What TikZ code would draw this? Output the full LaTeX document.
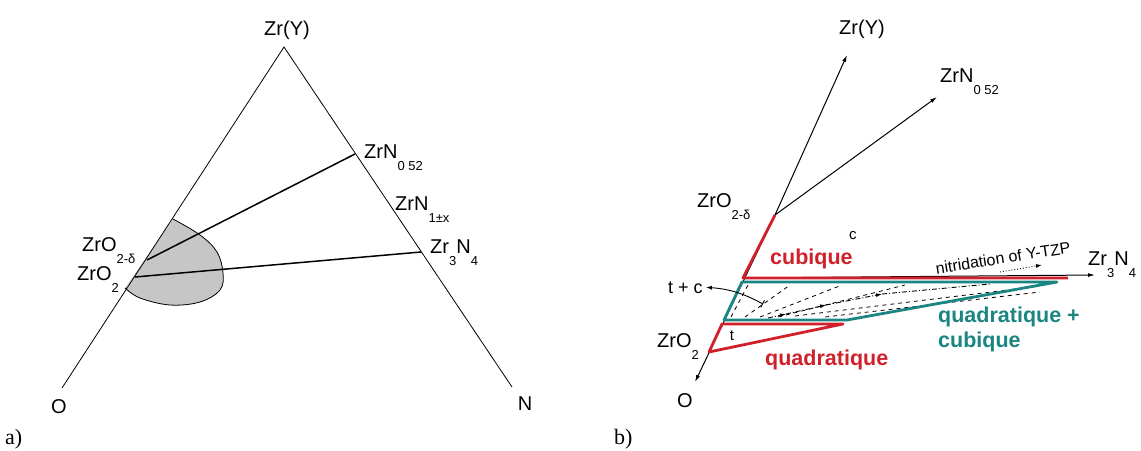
\documentclass[tikz,border=0pt]{standalone}
\usepackage{fontspec}
\setmainfont{Liberation Sans}
\newfontfamily\panelfont{Liberation Serif}
\usetikzlibrary{arrows.meta}
\definecolor{pdred}{HTML}{D0202A}
\definecolor{pdteal}{HTML}{1A8582}
\definecolor{pdgrey}{HTML}{C6C6C6}
\newcommand{\lowidx}[1]{\raisebox{-12pt}{\fontsize{13}{13}\selectfont #1}}

\begin{document}
\begin{tikzpicture}[
  x=1pt, y=-1pt,
  lab/.style       = {inner sep=0pt, anchor=base west, font=\fontsize{20}{22}\selectfont},
  corner/.style    = {inner sep=0pt, anchor=base, font=\fontsize{20}{22}\selectfont},
  panel/.style     = {inner sep=0pt, anchor=base west, font=\panelfont\fontsize{22}{24}\selectfont},
  phase/.style     = {inner sep=0pt, anchor=base west, font=\fontsize{21.5}{24}\selectfont\bfseries},
  small/.style     = {inner sep=0pt, font=\fontsize{15}{17}\selectfont},
  edge/.style      = {draw=black, line width=0.8pt},
  tie/.style       = {draw=black, line width=1.5pt},
  ray/.style       = {-{Latex[length=7pt,width=4pt]}, draw=black, line width=1pt},
  redphase/.style  = {draw=pdred, line width=2.8pt, line join=round},
  tealphase/.style = {draw=pdteal, line width=2.8pt, line join=round},
  guide/.style     = {draw=black, line width=0.8pt, dash pattern=on 4pt off 4pt},
  nitr/.style      = {draw=black, line width=0.9pt, dash pattern=on 5pt off 2pt on 1pt off 2pt},
]
\useasboundingbox (0,0) rectangle (1141,450);

% (a) section of the Zr-O-N diagram
\coordinate (aY) at (284,47);
\coordinate (aO) at (62,388);
\coordinate (aN) at (512,387);
\coordinate (aN52) at (355,154);
\coordinate (aZ3N4) at (421,252);
\coordinate (aO2d) at (147,260);
\coordinate (aO2) at (135,277);
\fill[pdgrey] plot[smooth, tension=0.6] coordinates
  {(173,219) (200,235) (217,252) (223,273) (220,290) (200,302) (170,305) (140,298) (125,288)} -- cycle;
\draw[edge] plot[smooth, tension=0.6] coordinates
  {(173,219) (200,235) (217,252) (223,273) (220,290) (200,302) (170,305) (140,298) (125,288)};
\draw[edge] (aO) -- (aY) -- (aN);
\draw[tie] (aO2d) -- (aN52);
\draw[tie] (aO2) -- (aZ3N4);
\node[corner] (aYlab) at (287,35) {Zr(Y)};
\node[lab] (aN52lab) at (364,158) {ZrN\lowidx{0 52}};
\node[lab] (aN1lab) at (395,210) {ZrN\lowidx{1±x}};
\node[lab] (aZ3N4lab) at (430,253) {Zr\lowidx{3}N\lowidx{4}};
\node[lab] (aO2dlab) at (82,251) {ZrO\lowidx{2-δ}};
\node[lab] (aO2lab) at (77,280) {ZrO\lowidx{2}};
\node[corner] (aOlab) at (59,413) {O};
\node[corner] (aNlab) at (525,410) {N};
\node[panel] (alab) at (5,444) {a)};

% (b) phase fields after nitridation
\coordinate (bO) at (695,382);
\coordinate (bY) at (847,55);
\coordinate (bO2d) at (775,215);
\coordinate (bN52) at (937,97);
\coordinate (bcub) at (743,278);
\coordinate (bZ3N4) at (1095,275);
\coordinate (tcfoot) at (763,304);
\draw[ray] (bO2d) -- (bY);
\draw[ray] (bO2d) -- (bO);
\draw[ray] (bO2d) -- (bN52);
\draw[ray] (bcub) -- (bZ3N4);
\foreach \xa/\xb in {731/748, 745/790, 760/842, 778/905}
  \draw[guide] (\xa,317) -- (\xb,285);
\draw[guide] (795,316) -- (1040,286);
\draw[guide] (825,317) -- (1040,292);
\draw[nitr, -{Latex[length=6pt,width=4pt]}] (768,318) -- (786,314);
\draw[nitr, -{Latex[length=6pt,width=4pt]}] (786,314) -- (826,305);
\draw[nitr, -{Latex[length=6pt,width=4pt]}] (826,305) -- (882,294);
\draw[nitr] (882,294) -- (990,284);
\draw[draw=black, line width=0.9pt, dotted, -{Latex[length=6pt,width=4pt]}] (1000,272) -- (1042,265);
\draw[redphase] (bO2d) -- (bcub) -- (1068,278);
\draw[tealphase] (742,282) -- (1057,282) -- (847,320) -- (724,320) -- cycle;
\draw[redphase] (722,324) -- (843,324) -- (709,352) -- cycle;
\node[corner] (bYlab) at (862,34) {Zr(Y)};
\node[lab] (bN52lab) at (940,82) {ZrN\lowidx{0 52}};
\node[lab] (bO2dlab) at (697,207) {ZrO\lowidx{2-δ}};
\node[lab] (bO2lab) at (657,347) {ZrO\lowidx{2}};
\node[corner] (bOlab) at (685,407) {O};
\node[lab] (bZ3N4lab) at (1088,265) {Zr\lowidx{3}N\lowidx{4}};
\node[small, anchor=base west, font=\fontsize{18}{20}\selectfont] (tc) at (668,293) {t + c};
\draw[{Bar[width=8pt]}-{Latex[length=6pt,width=4pt]}, line width=0.9pt]
  (tcfoot) to[bend right=12] ([xshift=3pt]tc.east);
\node[small, anchor=base west] (clab) at (849,239) {c};
\node[small] (tlab) at (732,336) {t};
\node[phase, text=pdred] (cub) at (770,264) {cubique};
\node[phase, text=pdred] (quad) at (765,365) {quadratique};
\node[phase, text=pdteal] (mix1) at (938,322) {quadratique +};
\node[phase, text=pdteal] (mix2) at (938,347) {cubique};
\node[small, rotate=9, font=\fontsize{16}{18}\selectfont] (nitlab) at (1003,258) {nitridation of Y-TZP};
\node[panel] (blab) at (614,444) {b)};
\end{tikzpicture}
\end{document}
